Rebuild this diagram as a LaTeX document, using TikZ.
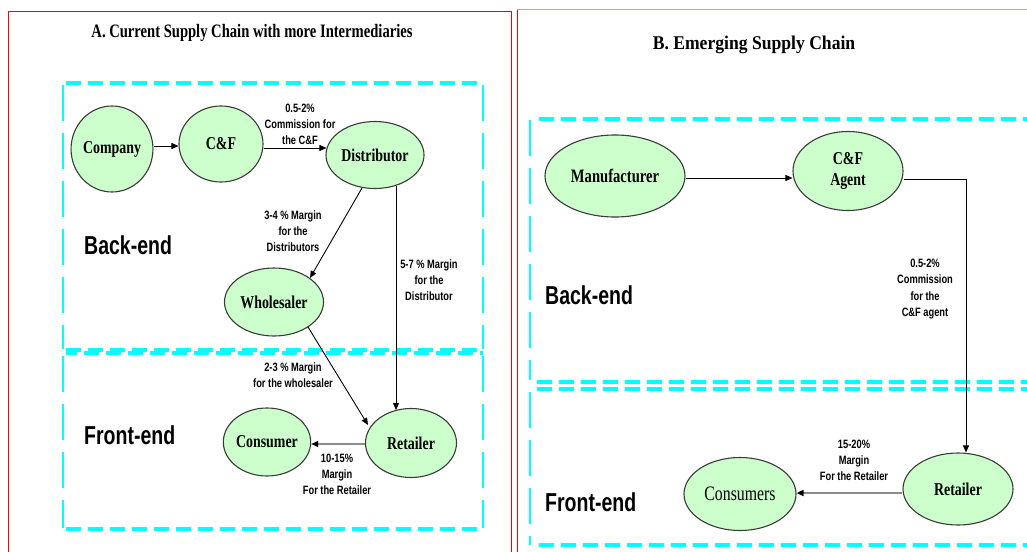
\documentclass[tikz,border=0pt]{standalone}
\usepackage{fontspec}
\setmainfont{Liberation Serif}
\newfontfamily\arialish{Liberation Sans}
\usetikzlibrary{calc,arrows.meta,shapes.geometric}
\definecolor{framered}{HTML}{FF0000}
\definecolor{framepink}{HTML}{FF8C8C}
\definecolor{zone}{HTML}{00FFFF}
\definecolor{entfill}{HTML}{CCFFCC}
\definecolor{entline}{HTML}{3A3A3A}
\newcommand{\tallt}[1]{\scalebox{1}[1.3]{#1}}
\begin{document}
\begin{tikzpicture}[x=1pt,y=-1pt,
  ent/.style={ellipse,draw=entline,line width=1.1pt,fill=entfill,inner sep=0pt,
    font=\fontsize{13.9}{15}\selectfont\bfseries},
  conn/.style={draw=black,line width=0.9pt,-{Triangle[length=7pt,width=6pt]}},
  softconn/.style={draw=black!45,line width=1.6pt,-{Triangle[length=7pt,width=6pt,color=black]}},
  lab/.style={align=center,yscale=1.3,inner sep=0pt,
    font=\arialish\fontsize{9.3}{12.4}\selectfont\bfseries},
  zonelab/.style={anchor=west,yscale=1.33,inner sep=0pt,
    font=\arialish\fontsize{19.5}{22}\selectfont\bfseries},
  ttl/.style={yscale=1.3,inner sep=0pt,font=\fontsize{14.6}{16}\selectfont\bfseries},
  hdash/.style={draw=zone,line width=3.2pt,dash pattern=on 15pt off 7pt},
  vdash/.style={draw=zone,line width=2pt,dash pattern=on 36pt off 12pt},
]
\useasboundingbox (0,0) rectangle (1027,551);
\fill[white] (0,0) rectangle (1027,551);

% ---------- outer frames ----------
\draw[framered,line width=1pt] (8,560) -- (8,12) -- (511,12) -- (511,560);
\draw[framepink,line width=1pt] (517,10) -- (1040,10);
\draw[framered,line width=1pt] (517,10) -- (517,560);

% ---------- A: zones ----------
\draw[hdash] (66,83) -- (483,83);
\draw[hdash] (66,350) -- (483,350);
\draw[hdash,dash phase=4pt] (66,353) -- (483,353);
\draw[hdash] (66,529) -- (483,529);
\draw[vdash] (63,85) -- (63,349);
\draw[vdash] (483,85) -- (483,349);
\draw[vdash] (63,356) -- (63,528);
\draw[vdash] (483,356) -- (483,528);

% ---------- B: zones ----------
\draw[hdash] (539,119) -- (1030,119);
\draw[hdash] (537,382) -- (1030,382);
\draw[hdash] (537,389) -- (1030,389);
\draw[hdash] (539,545) -- (1030,545);
\draw[vdash] (530,120) -- (530,380);
\draw[vdash] (530,392) -- (530,545);

% ---------- titles ----------
\node[ttl] (titleA) at (252,33) {A. Current Supply Chain with more Intermediaries};
\node[ttl,yscale=0.85,font=\fontsize{17.6}{19}\selectfont\bfseries] (titleB) at (754,45) {B. Emerging Supply Chain};

\node[zonelab] (backA) at (84,245) {Back-end};
\node[zonelab] (frontA) at (84,435) {Front-end};
\node[zonelab] (backB) at (545,295) {Back-end};
\node[zonelab] (frontB) at (545,502) {Front-end};

% ---------- A: entities ----------
\node[ent,minimum width=76pt,minimum height=86pt] (company) at (112,149) {\tallt{Company}};
\node[ent,minimum width=84pt,minimum height=76pt] (cf) at (221,144) {\tallt{C\&F}};
\node[ent,minimum width=98pt,minimum height=67pt] (distributor) at (375,155) {\tallt{Distributor}};
\node[ent,minimum width=99pt,minimum height=68pt] (wholesaler) at (274,302) {\tallt{Wholesaler}};
\node[ent,minimum width=82pt,minimum height=68pt] (consumer) at (267,442) {\tallt{Consumer}};
\node[ent,minimum width=91pt,minimum height=69pt] (retailer) at (411,443) {\tallt{Retailer}};

% ---------- A: flows ----------
\draw[conn] ($(company.east)+(0,-3)$) -- ($(cf.west)+(0,2)$);
\draw[conn] ($(cf.east)+(0,4)$) -- ($(distributor.west)+(1,-7)$);
\draw[conn] ($(distributor.center)+(-13,33)$) -- ($(wholesaler.center)+(36,-24)$);
\draw[conn] ($(distributor.center)+(21,31)$) -- ($(retailer.center)+(-15,-33)$);
\draw[conn] ($(wholesaler.center)+(34,25)$) -- ($(retailer.center)+(-43,-18)$);
\draw[softconn] ($(retailer.west)+(0,1)$) -- ($(consumer.east)+(0,2)$);

\node[lab] (l1) at (300,124) {0.5-2\%\\Commission for\\the C\&F};
\node[lab] (l2) at (293,231) {3-4 \% Margin\\for the\\Distributors};
\node[lab] (l3) at (429,280) {5-7 \% Margin\\for the\\Distributor};
\node[lab] (l4) at (293,375) {2-3 \% Margin\\for the wholesaler};
\node[lab] (l5) at (337,474) {10-15\%\\Margin\\For the Retailer};

% ---------- B: entities ----------
\node[ent,minimum width=140pt,minimum height=82pt,font=\fontsize{14.6}{16}\selectfont\bfseries] (manuf) at (615,176) {\tallt{Manufacturer}};
\node[ent,minimum width=110pt,minimum height=79pt,align=center] (agent) at (848,171)
  {\tallt{\shortstack{C\&F\\[4pt]Agent}}};
\node[ent,minimum width=110pt,minimum height=72pt] (retailerB) at (958,489) {\tallt{Retailer}};
\node[ent,minimum width=112pt,minimum height=73pt,font=\fontsize{15.8}{17}\selectfont] (consumers) at (740,494) {\tallt{Consumers}};

% ---------- B: flows ----------
\draw[conn] ($(manuf.east)+(0,2)$) -- ($(agent.west)+(0,7)$);
\draw[conn] ($(agent.east)+(0,8)$) -| ($(retailerB.north)+(8,0)$);
\draw[softconn] ($(retailerB.west)+(0,4)$) -- ($(consumers.east)+(0,-1)$);

\node[lab] (l6) at (925,289) {0.5-2\%\\Commission\\for the\\C\&F agent};
\node[lab] (l7) at (854,460) {15-20\%\\Margin\\For the Retailer};
\end{tikzpicture}
\end{document}
